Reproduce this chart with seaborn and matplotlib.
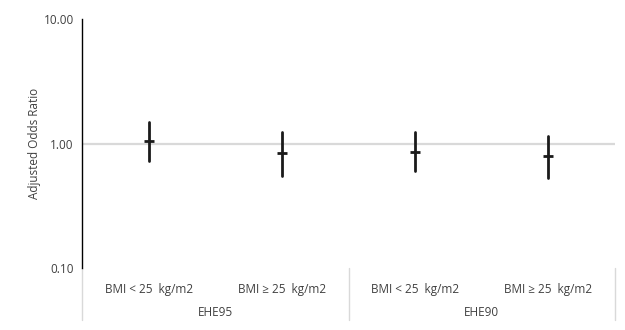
import numpy as np
import pandas as pd
import matplotlib
matplotlib.use("Agg")
import matplotlib.pyplot as plt
import seaborn as sns

# Data
categories = ["BMI < 25  kg/m2", "BMI \u2265 25  kg/m2", "BMI < 25  kg/m2 ", "BMI \u2265 25  kg/m2 "]
groups = ["EHE95", "EHE90"]
odds_ratio = [1.04, 0.84, 0.86, 0.79]
ci_lower = [0.72, 0.55, 0.60, 0.53]
ci_upper = [1.50, 1.24, 1.24, 1.15]
ytick_values = [0.1, 1.0, 10.0]
ytick_labels = ["0.10", "1.00", "10.00"]

sns.set_theme(style="white")
plt.rcParams["font.family"] = ["Open Sans", "DejaVu Sans"]

# long form: median of (lower, OR, upper) is the OR, min-max interval is the CI
rows = []
for cat, lo, mid, hi in zip(categories, ci_lower, odds_ratio, ci_upper):
    for v in (lo, mid, hi):
        rows.append({"category": cat, "value": v})
df = pd.DataFrame(rows)

fig = plt.figure(figsize=(6.25, 3.3), dpi=100)
ax = fig.add_axes([0.1312, 0.1879, 0.8528, 0.7545])

ax.axhline(1.0, color="#d9d9d9", lw=1.6, zorder=0)

sns.pointplot(data=df, x="category", y="value", order=categories,
              estimator="median", errorbar=("pi", 100),
              linestyle="none", marker="_", markersize=7, markeredgewidth=2,
              color="#1a1a1a", err_kws={"linewidth": 2}, ax=ax, log_scale=(False, True))

ax.set_yscale("log")
ax.set_ylim(0.1, 10)
ax.set_xlim(-0.5, len(categories) - 0.5)
ax.set_yticks(ytick_values)
ax.set_yticklabels(ytick_labels)
ax.yaxis.set_minor_locator(matplotlib.ticker.NullLocator())
ax.set_xticks(range(len(categories)))
ax.set_xticklabels([c.strip() for c in categories])
ax.tick_params(axis="both", length=0, labelsize=8.5, colors="#404040")
ax.tick_params(axis="x", pad=11)
ax.tick_params(axis="y", pad=6)
ax.set_xlabel("")
ax.set_ylabel("Adjusted Odds Ratio", fontsize=8.5, color="#404040", labelpad=2)

for side in ["top", "right", "bottom"]:
    ax.spines[side].set_visible(False)
ax.spines["left"].set_color("black")
ax.spines["left"].set_linewidth(1.0)

# group labels and separators under the axis
trans = matplotlib.transforms.blended_transform_factory(ax.transData, ax.transAxes)
for i, g in enumerate(groups):
    ax.text(2 * i + 0.5, -0.178, g, transform=trans, ha="center", va="center",
            fontsize=8.5, color="#404040")
for xs in [-0.5, 1.5, 3.5]:
    ax.plot([xs, xs], [0, -0.21], transform=trans, color="#d9d9d9", lw=1,
            clip_on=False, zorder=0)

fig.savefig("out.png", dpi=100)
